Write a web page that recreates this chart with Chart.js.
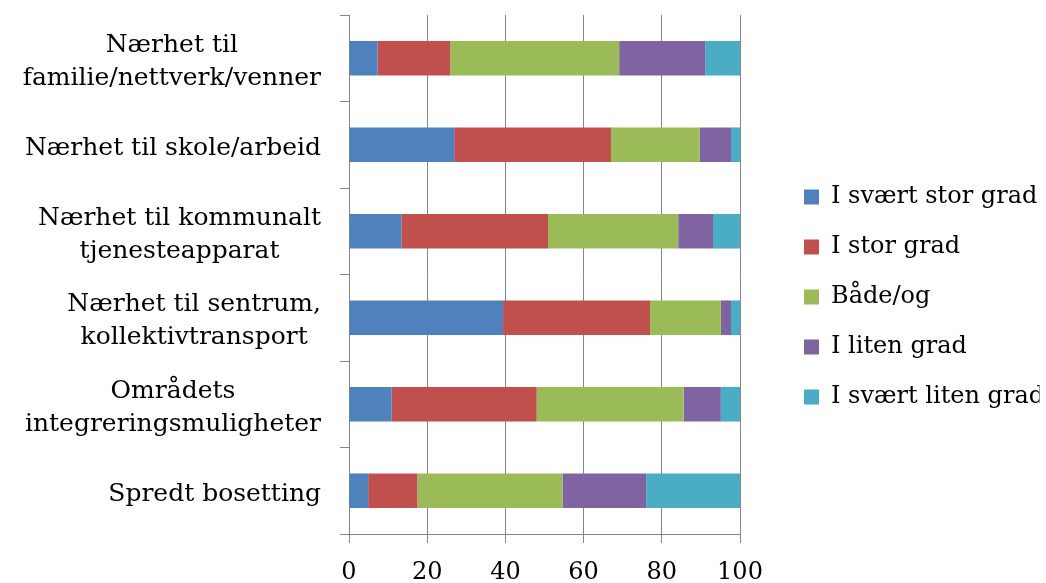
<!DOCTYPE html>
<html>
<head>
<meta charset="utf-8">
<script src="https://cdn.jsdelivr.net/npm/chart.js@4.4.1/dist/chart.umd.min.js"></script>
<style>
  html, body { margin: 0; padding: 0; background: #ffffff; }
  #wrap { width: 1046px; height: 583px; }
</style>
</head>
<body>
<div id="wrap"><canvas id="c" width="1046" height="583"></canvas></div>
<script>
// Categories (each entry is a list of text lines)
const categories = [
  ['Nærhet til', 'familie/nettverk/venner'],
  ['Nærhet til skole/arbeid'],
  ['Nærhet til kommunalt', 'tjenesteapparat'],
  ['Nærhet til sentrum,', 'kollektivtransport'],
  ['Områdets', 'integreringsmuligheter'],
  ['Spredt bosetting']
];

// Series names
const seriesNames = ['I svært stor grad', 'I stor grad', 'Både/og', 'I liten grad', 'I svært liten grad'];

// Share of answers (%) per category, one array per series
const svaertStorGrad  = [7.3, 26.9, 13.4, 39.4, 10.9, 4.9];
const storGrad        = [18.6, 40.1, 37.5, 37.6, 37.1, 12.6];
const baadeOg         = [43.2, 22.7, 33.3, 18.1, 37.6, 37.1];
const litenGrad       = [22.0, 8.0, 8.9, 2.6, 9.5, 21.4];
const svaertLitenGrad = [8.9, 2.3, 6.9, 2.3, 4.9, 24.0];

// Value axis ticks
const xTicks = [0, 20, 40, 60, 80, 100];

const seriesColors = ['#4F81BD', '#C0504D', '#9BBB59', '#8064A2', '#4BACC6'];
const seriesValues = [svaertStorGrad, storGrad, baadeOg, litenGrad, svaertLitenGrad];

const serif = '"DejaVu Serif", "Liberation Serif", serif';
const axisGray = '#868686';

// Category labels: right-aligned block, lines centred inside the block
const categoryLabels = {
  id: 'categoryLabels',
  afterDraw(chart) {
    const yScale = chart.scales.y;
    const ctx = chart.ctx;
    const blockRight = yScale.right - 28;
    const lineGap = 33;
    ctx.save();
    ctx.font = '25px ' + serif;
    ctx.fillStyle = '#000000';
    ctx.textAlign = 'center';
    ctx.textBaseline = 'alphabetic';
    chart.data.labels.forEach((lines, i) => {
      const cy = yScale.getPixelForValue(i);
      const w = Math.max(...lines.map(l => ctx.measureText(l).width));
      const cx = blockRight - w / 2;
      lines.forEach((line, j) => {
        ctx.fillText(line, cx, cy + 10 + (j - (lines.length - 1) / 2) * lineGap);
      });
    });
    ctx.restore();
  }
};

// Legend sits a little right of the plot area
const legendPlacement = {
  id: 'legendPlacement',
  afterLayout(chart) {
    const lg = chart.legend;
    if (!lg) return;
    const left = 778;
    const w = lg.width;
    lg.left = left;
    lg.right = left + w;
    lg.top -= 2;
    lg.bottom -= 2;
  }
};

new Chart(document.getElementById('c'), {
  type: 'bar',
  data: {
    labels: categories,
    datasets: seriesNames.map((name, k) => ({
      label: name,
      data: seriesValues[k],
      backgroundColor: seriesColors[k],
      borderWidth: 0,
      barPercentage: 0.4,
      categoryPercentage: 1.0
    }))
  },
  options: {
    indexAxis: 'y',
    responsive: false,
    animation: false,
    devicePixelRatio: 1,
    layout: { padding: { top: 15, right: 0, bottom: 0, left: 0 } },
    plugins: {
      tooltip: { enabled: false },
      legend: {
        position: 'right',
        labels: {
          boxWidth: 15,
          boxHeight: 15,
          padding: 26,
          color: '#000000',
          font: { family: serif, size: 24 }
        }
      }
    },
    scales: {
      x: {
        stacked: true,
        min: 0,
        max: 100,
        afterBuildTicks(scale) {
          scale.ticks = xTicks.map(v => ({ value: v }));
        },
        afterFit(scale) {
          scale.height = 49;
          scale.paddingRight = 306;
        },
        grid: { color: axisGray, lineWidth: 1, tickLength: 9, drawTicks: true },
        border: { color: axisGray, width: 1 },
        ticks: {
          color: '#000000',
          padding: 15,
          maxRotation: 0,
          font: { family: serif, size: 24 }
        }
      },
      y: {
        stacked: true,
        afterFit(scale) {
          scale.width = 349;
        },
        grid: {
          offset: true,
          drawOnChartArea: false,
          drawTicks: true,
          tickLength: 9,
          color: axisGray,
          lineWidth: 1
        },
        border: { color: axisGray, width: 1 },
        ticks: { display: false }
      }
    }
  },
  plugins: [categoryLabels, legendPlacement]
});
</script>
</body>
</html>
